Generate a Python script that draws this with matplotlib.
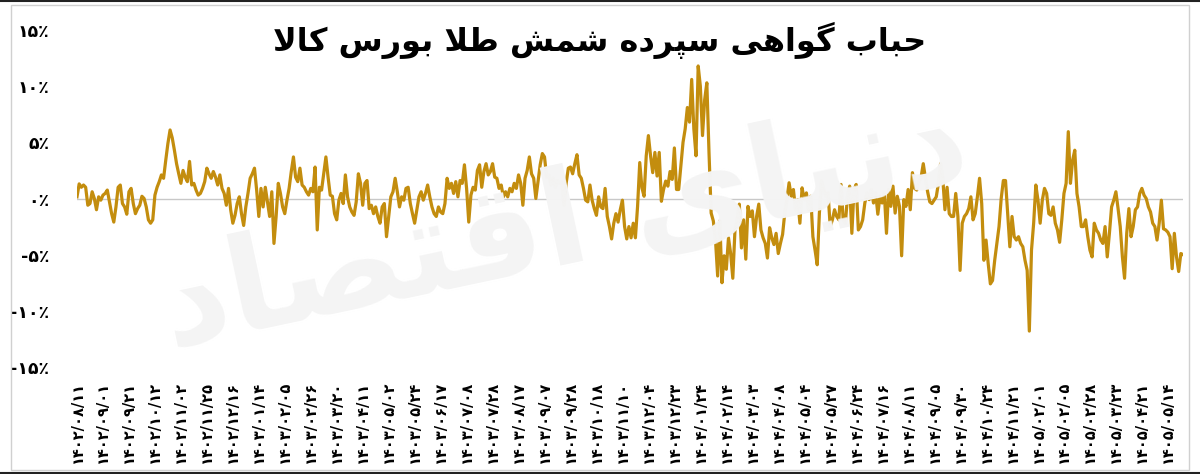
import numpy as np
import matplotlib
matplotlib.use("Agg")
import matplotlib.pyplot as plt
from matplotlib.patches import Rectangle
from matplotlib.lines import Line2D

# ---------------- data ----------------
title_text = "حباب گواهی سپرده شمش طلا بورس کالا"
watermark_text = "دنیای اقتصاد"

date_labels = [
    "۱۴۰۲/۰۸/۱۱", "۱۴۰۲/۰۹/۰۱", "۱۴۰۲/۰۹/۲۱", "۱۴۰۲/۱۰/۱۲", "۱۴۰۲/۱۱/۰۲",
    "۱۴۰۲/۱۱/۲۵", "۱۴۰۲/۱۲/۱۶", "۱۴۰۳/۰۱/۱۴", "۱۴۰۳/۰۲/۰۵", "۱۴۰۳/۰۲/۲۶",
    "۱۴۰۳/۰۳/۲۰", "۱۴۰۳/۰۴/۱۱", "۱۴۰۳/۰۵/۰۲", "۱۴۰۳/۰۵/۲۴", "۱۴۰۳/۰۶/۱۷",
    "۱۴۰۳/۰۷/۰۸", "۱۴۰۳/۰۷/۲۸", "۱۴۰۳/۰۸/۱۷", "۱۴۰۳/۰۹/۰۷", "۱۴۰۳/۰۹/۲۸",
    "۱۴۰۳/۱۰/۱۸", "۱۴۰۳/۱۱/۱۰", "۱۴۰۳/۱۲/۰۴", "۱۴۰۳/۱۲/۲۳", "۱۴۰۴/۰۱/۲۴",
    "۱۴۰۴/۰۲/۱۴", "۱۴۰۴/۰۳/۰۳", "۱۴۰۴/۰۴/۰۸", "۱۴۰۴/۰۵/۰۴", "۱۴۰۴/۰۵/۲۷",
    "۱۴۰۴/۰۶/۲۴", "۱۴۰۴/۰۷/۱۶", "۱۴۰۴/۰۸/۱۱", "۱۴۰۴/۰۹/۰۵", "۱۴۰۴/۰۹/۳۰",
    "۱۴۰۴/۱۰/۲۴", "۱۴۰۴/۱۱/۲۱", "۱۴۰۵/۰۲/۰۱", "۱۴۰۵/۰۲/۰۵", "۱۴۰۵/۰۲/۲۸",
    "۱۴۰۵/۰۳/۲۳", "۱۴۰۵/۰۴/۲۱", "۱۴۰۵/۰۵/۱۴",
]

y_ticks = [-15, -10, -5, 0, 5, 10, 15]
y_tick_labels = ["-۱۵٪", "-۱۰٪", "-۵٪", "۰٪", "۵٪", "۱۰٪", "۱۵٪"]

# bubble (%), in four consecutive stretches
bubble_part1 = [
    0.15, 1.3, 1.0, 1.2, 1.0, -0.6, -0.45, 0.6, 0.0, -1.0,
    0.15, -0.15, 0.3, 0.45, 0.75, -0.3, -1.35, -2.1, -0.75, 1.0,
    1.2, -0.45, -0.75, -1.4, 0.6, 0.9, -0.45, -1.35, -0.9, -0.6,
    0.2, 0.0, -0.75, -1.9, -2.2, -1.9, 0.3, 1.0, 1.5, 2.1,
    1.8, 3.4, 4.9, 6.1, 5.4, 4.3, 3.1, 2.2, 1.35, 2.5,
    1.9, 1.5, 3.3, 1.2, 1.35, 0.75, 0.3, 0.45, 0.9, 1.5,
    2.7, 2.2, 1.8, 2.4, 1.9, 1.2, 2.1, 0.9, 0.45, -0.6,
    0.9, -1.0, -2.2, -1.5, -0.45, 0.15, -1.35, -2.4, -0.75, 0.45,
    1.8, 2.2, 2.7, 0.75, -1.6, 0.9, -0.75, 1.0, -0.3, -1.6,
    0.6, -4.0, -1.6, 1.35, 0.45, -0.75, -1.35, -0.15, 0.9, 2.4,
    3.7, 1.9, 1.5, 2.7, 1.2, 1.0, 0.6, 0.3, 0.9, 0.6,
    2.8, -2.8, 1.0, 0.75, 2.2, 3.7, 1.9, 0.3, 0.2, -1.35,
    -1.9, -0.15, 0.45, -0.45, 2.1, 0.15, -0.75,
]
bubble_part2 = [
    -1.2, -1.5, -0.3, 2.2, 1.35, -0.6, 1.35, 1.6, -0.9, -0.6,
    -1.35, -0.75, -1.6, -2.2, -0.75, -0.45, -3.4, -1.6, 0.15, 0.6,
    1.8, 0.6, -0.75, 0.15, -0.15, 0.9, 1.0, -0.45, -1.35, -2.2,
    -1.0, 0.15, 0.6, -0.15, 0.45, 1.2, 0.15, -0.75, -1.35, -1.6,
    -0.75, -1.2, -1.35, -0.45, 1.8, 0.9, 1.35, 0.45, 1.5, 0.15,
    1.6, 1.35, 3.0, 0.9, -2.1, 0.3, 1.0, 0.75, 2.5, 3.0,
    1.0, 2.4, 3.1, 2.1, 2.4, 3.1, 1.9, 1.8, 0.9, 1.2,
    0.15, 0.6, 0.15, 0.9, 0.6, 1.35, 0.9, 2.1, 1.35, -0.6,
    1.8, 2.5, 3.7, 2.2, 1.8, 0.0, 1.5, 3.0, 4.0, 3.7,
    1.9, 2.1, 1.2, 1.8, 1.0, 1.6, 1.35, 1.5, -0.6, 1.35,
    2.7, 2.8, 2.2, 3.1, 3.9, 2.1, 1.8, 0.9, -0.15, -0.3,
    1.2, -0.15, -0.9, -1.5, 0.15, -0.75, -0.9, 0.9, -1.6, -2.5,
    -3.6, -2.2, -1.35, -2.1, -1.0, -0.15, -2.5, -3.6,
]
bubble_part3 = [
    -2.5, -3.5, -2.2, -3.5, -0.7, 3.2, 0.95, 0.2, 3.8, 5.6,
    3.8, 2.3, 4.1, 2.0, 4.1, -0.25, 0.8, 1.55, 1.1, 2.4,
    1.7, 4.5, 0.8, 0.8, 2.9, 5.0, 6.2, 8.1, 6.8, 10.6,
    6.2, 3.8, 11.8, 10.0, 5.6, 8.8, 10.3, 4.1, -1.3, -2.0,
    -3.7, -6.9, -2.0, -7.5, -5.1, -6.3, -3.5, -4.9, -7.1, -2.8,
    -1.9, -0.5, -4.4, -1.9, -5.4, -0.7, -1.6, -1.1, -3.4, -1.6,
    -0.5, -2.8, -3.5, -4.0, -5.3, -2.6, -3.5, -4.1, -3.1, -4.9,
    -4.0, -3.2, -1.3, -0.1, 1.4, 0.2, 0.8, -1.0, -0.1, -2.2,
    0.95, -0.1, 0.5, -1.0, 0.2, -3.4, -4.6, -5.9, -1.3, 1.55,
    0.8, 0.2, 0.5, -2.5, -1.9, -1.0, -1.6, -1.9, 1.25, -1.9,
    -2.2, 0.2, 1.1, -3.1, 0.8, 1.25, -2.8, -2.5, -1.9, -0.4,
    0.5, -0.1, 0.8, -0.4, 0.5, -1.4, 0.2, -0.4, 0.5, -3.1,
    0.8, -0.7, 1.1, -1.3, 0.2, -0.7, -5.1, -0.1, -0.7, 0.8,
    -1.0, 2.3,
]
bubble_part4 = [
    0.9, 0.75, 1.5, 1.9, 3.1, 1.8, 0.6, -0.3, -0.45, -0.15,
    0.15, 1.35, 3.1, 1.8, -1.0, 1.0, -1.35, -1.6, -1.6, 0.45,
    -1.6, -6.4, -2.2, -1.6, -1.35, -0.9, 0.15, -1.9, -1.35, 0.15,
    1.8, -0.45, -5.5, -3.7, -5.8, -7.6, -7.3, -5.5, -4.0, -2.5,
    0.0, 1.6, 1.6, -1.35, -4.3, -1.6, -3.4, -3.7, -3.4, -4.0,
    -4.3, -5.5, -6.4, -11.8, -4.6, -2.2, 1.2, -0.15, -2.2, -0.15,
    0.9, 0.45, -1.35, -1.5, -0.75, -2.2, -2.8, -3.9, -1.9, 0.45,
    1.35, 5.95, 1.35, 3.4, 4.3, 0.45, -0.75, -2.5, -2.5, -1.9,
    -3.4, -4.6, -5.2, -2.2, -2.8, -3.1, -3.7, -4.0, -2.5, -5.2,
    -3.1, -0.75, -0.15, 0.6, -0.9, -2.5, -5.2, -7.1, -3.1, -0.9,
    -3.4, -2.5, -1.0, -0.75, 0.45, 0.9, 0.3, 0.0, -0.75, -1.2,
    -2.2, -2.5, -3.7, -2.2, -0.15, -2.7, -2.8, -3.0, -3.4, -6.25,
    -3.1, -5.2, -6.5, -4.9, -5.0,
]

bubble = np.array(bubble_part1 + bubble_part2 + bubble_part3 + bubble_part4)

# ---------------- minimal Persian shaping (matplotlib has no complex text layout) ----------------
FORMS = {
    "ا": ("\uFE8D", "\uFE8E"), "د": ("\uFEA9", "\uFEAA"), "ر": ("\uFEAD", "\uFEAE"),
    "و": ("\uFEED", "\uFEEE"), "لا": ("\uFEFB", "\uFEFC"),
    "ب": ("\uFE8F", "\uFE90", "\uFE91", "\uFE92"), "پ": ("\uFB56", "\uFB57", "\uFB58", "\uFB59"),
    "ت": ("\uFE95", "\uFE96", "\uFE97", "\uFE98"), "ح": ("\uFEA1", "\uFEA2", "\uFEA3", "\uFEA4"),
    "س": ("\uFEB1", "\uFEB2", "\uFEB3", "\uFEB4"), "ش": ("\uFEB5", "\uFEB6", "\uFEB7", "\uFEB8"),
    "ص": ("\uFEB9", "\uFEBA", "\uFEBB", "\uFEBC"), "ط": ("\uFEC1", "\uFEC2", "\uFEC3", "\uFEC4"),
    "ق": ("\uFED5", "\uFED6", "\uFED7", "\uFED8"), "ک": ("\uFB8E", "\uFB8F", "\uFB90", "\uFB91"),
    "گ": ("\uFB92", "\uFB93", "\uFB94", "\uFB95"), "ل": ("\uFEDD", "\uFEDE", "\uFEDF", "\uFEE0"),
    "م": ("\uFEE1", "\uFEE2", "\uFEE3", "\uFEE4"), "ن": ("\uFEE5", "\uFEE6", "\uFEE7", "\uFEE8"),
    "ه": ("\uFEE9", "\uFEEA", "\uFEEB", "\uFEEC"), "ی": ("\uFBFC", "\uFBFD", "\uFBFE", "\uFBFF"),
}


def shape_rtl(text):
    words = []
    for w in text.split(" "):
        toks, i = [], 0
        while i < len(w):
            if w[i] == "ل" and i + 1 < len(w) and w[i + 1] == "ا":
                toks.append("لا"); i += 2
            else:
                toks.append(w[i]); i += 1
        out = []
        for j, t in enumerate(toks):
            f = FORMS.get(t)
            if f is None:
                out.append(t); continue
            prev = toks[j - 1] if j > 0 else None
            nxt = toks[j + 1] if j + 1 < len(toks) else None
            jp = prev is not None and prev in FORMS and len(FORMS[prev]) == 4
            jn = nxt is not None and nxt in FORMS and len(f) == 4
            if jp and jn:
                out.append(f[3])
            elif jp:
                out.append(f[1])
            elif jn:
                out.append(f[2])
            else:
                out.append(f[0])
        words.append("".join(out))
    return " ".join(words)[::-1]


# ---------------- figure ----------------
plt.rcParams["font.family"] = ["DejaVu Sans"]
W, H = 1200, 474
fig = plt.figure(figsize=(W / 100, H / 100), dpi=100)
fig.patch.set_facecolor("white")

ax_left, ax_right = 77 / W, 1183 / W
ax_top, ax_bot = 30 / H, 367 / H
ax = fig.add_axes([ax_left, 1 - ax_bot, ax_right - ax_left, ax_bot - ax_top])
ax.set_facecolor("none")

x = np.arange(len(bubble))
ax.axhline(0, color="#c8c8c8", lw=1.0, zorder=1)
ax.plot(x, bubble, color="#C38D0E", lw=2.3, zorder=3)

ax.set_xlim(0, len(bubble) - 1)
ax.set_ylim(-15, 15)

ax.set_yticks(y_ticks)
ax.set_yticklabels(y_tick_labels, fontsize=12.5, fontweight="bold")
tick_step = 12
ax.set_xticks(np.arange(len(date_labels)) * tick_step)
ax.set_xticklabels(date_labels, rotation=90, fontsize=10.5, fontweight="bold")
ax.tick_params(axis="both", length=0)
ax.tick_params(axis="y", pad=20)
ax.tick_params(axis="x", pad=10)
for s in ax.spines.values():
    s.set_visible(False)

# title
fig.text(0.5, 1 - 40 / H, shape_rtl(title_text), ha="center", va="center",
         fontsize=23, fontweight="bold", color="black")

# watermark
fig.text(0.47, 0.52, shape_rtl(watermark_text), ha="center", va="center",
         fontsize=95, fontweight="bold", color="#f4f4f4", rotation=12, zorder=0)

# frame
fig.patches.append(Rectangle((11 / W, 4 / H), 1178 / W, 465 / H, transform=fig.transFigure,
                             fill=False, edgecolor="#d0d0d0", lw=1.0, zorder=0))
fig.lines.append(Line2D([0, 1], [1 - 0.5 / H, 1 - 0.5 / H], transform=fig.transFigure,
                        color="#222222", lw=1.5))
fig.lines.append(Line2D([0, 1], [1.5 / H, 1.5 / H], transform=fig.transFigure,
                        color="#222222", lw=1.5))

fig.savefig("out.png", dpi=100, facecolor="white")
